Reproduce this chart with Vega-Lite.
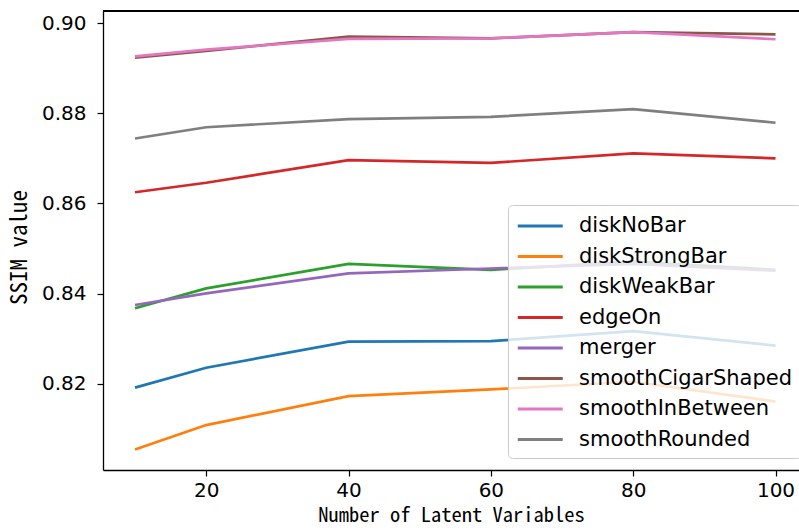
{
  "$schema": "https://vega.github.io/schema/vega-lite/v6.json",
  "autosize": "none",
  "width": 696,
  "height": 459,
  "padding": {"left": 103, "top": 11, "right": 0, "bottom": 61},
  "config": {
    "font": "DejaVu Sans",
    "view": {"stroke": null},
    "axis": {"grid": false, "domainColor": "#000000", "domainWidth": 1.3, "tickColor": "#000000", "tickWidth": 1.2, "tickSize": 6, "labelColor": "#000000", "labelFontSize": 20, "labelFont": "DejaVu Sans", "titleFont": "Noto Sans Mono CJK SC", "titleFontWeight": "normal", "titleColor": "#000000"}
  },
  "data": {
    "values": [
      {"series": "diskNoBar", "latent": 10, "ssim": 0.8192},
      {"series": "diskNoBar", "latent": 20, "ssim": 0.8236},
      {"series": "diskNoBar", "latent": 40, "ssim": 0.8294},
      {"series": "diskNoBar", "latent": 60, "ssim": 0.8295},
      {"series": "diskNoBar", "latent": 80, "ssim": 0.8317},
      {"series": "diskNoBar", "latent": 100, "ssim": 0.8285},
      {"series": "diskStrongBar", "latent": 10, "ssim": 0.8055},
      {"series": "diskStrongBar", "latent": 20, "ssim": 0.8109},
      {"series": "diskStrongBar", "latent": 40, "ssim": 0.8173},
      {"series": "diskStrongBar", "latent": 60, "ssim": 0.8188},
      {"series": "diskStrongBar", "latent": 80, "ssim": 0.8205},
      {"series": "diskStrongBar", "latent": 100, "ssim": 0.8161},
      {"series": "diskWeakBar", "latent": 10, "ssim": 0.8368},
      {"series": "diskWeakBar", "latent": 20, "ssim": 0.8412},
      {"series": "diskWeakBar", "latent": 40, "ssim": 0.8466},
      {"series": "diskWeakBar", "latent": 60, "ssim": 0.8453},
      {"series": "diskWeakBar", "latent": 80, "ssim": 0.8471},
      {"series": "diskWeakBar", "latent": 100, "ssim": 0.8453},
      {"series": "edgeOn", "latent": 10, "ssim": 0.8625},
      {"series": "edgeOn", "latent": 20, "ssim": 0.8646},
      {"series": "edgeOn", "latent": 40, "ssim": 0.8696},
      {"series": "edgeOn", "latent": 60, "ssim": 0.8690},
      {"series": "edgeOn", "latent": 80, "ssim": 0.8711},
      {"series": "edgeOn", "latent": 100, "ssim": 0.8700},
      {"series": "merger", "latent": 10, "ssim": 0.8375},
      {"series": "merger", "latent": 20, "ssim": 0.8401},
      {"series": "merger", "latent": 40, "ssim": 0.8445},
      {"series": "merger", "latent": 60, "ssim": 0.8456},
      {"series": "merger", "latent": 80, "ssim": 0.8466},
      {"series": "merger", "latent": 100, "ssim": 0.8451},
      {"series": "smoothCigarShaped", "latent": 10, "ssim": 0.8923},
      {"series": "smoothCigarShaped", "latent": 20, "ssim": 0.8938},
      {"series": "smoothCigarShaped", "latent": 40, "ssim": 0.8970},
      {"series": "smoothCigarShaped", "latent": 60, "ssim": 0.8966},
      {"series": "smoothCigarShaped", "latent": 80, "ssim": 0.8980},
      {"series": "smoothCigarShaped", "latent": 100, "ssim": 0.8975},
      {"series": "smoothInBetween", "latent": 10, "ssim": 0.8926},
      {"series": "smoothInBetween", "latent": 20, "ssim": 0.8941},
      {"series": "smoothInBetween", "latent": 40, "ssim": 0.8965},
      {"series": "smoothInBetween", "latent": 60, "ssim": 0.8966},
      {"series": "smoothInBetween", "latent": 80, "ssim": 0.8980},
      {"series": "smoothInBetween", "latent": 100, "ssim": 0.8964},
      {"series": "smoothRounded", "latent": 10, "ssim": 0.8744},
      {"series": "smoothRounded", "latent": 20, "ssim": 0.8769},
      {"series": "smoothRounded", "latent": 40, "ssim": 0.8787},
      {"series": "smoothRounded", "latent": 60, "ssim": 0.8792},
      {"series": "smoothRounded", "latent": 80, "ssim": 0.8809},
      {"series": "smoothRounded", "latent": 100, "ssim": 0.8779}
    ]
  },
  "layer": [
    {
      "mark": {"type": "line", "strokeWidth": 2.7, "clip": true},
      "encoding": {
        "x": {"field": "latent", "type": "quantitative", "scale": {"domain": [5.5, 103.3], "nice": false, "zero": false},
              "axis": {"values": [20, 40, 60, 80, 100], "title": "Number of Latent Variables", "titleFontSize": 20.5, "titlePadding": 5, "labelPadding": 4}},
        "y": {"field": "ssim", "type": "quantitative", "scale": {"domain": [0.80094, 0.90266], "nice": false, "zero": false},
              "axis": {"values": [0.82, 0.84, 0.86, 0.88, 0.9], "format": ".2f", "title": "SSIM value", "titleFontSize": 23, "titlePadding": 10, "titleY": 236, "labelPadding": 11}},
        "color": {"field": "series", "type": "nominal",
                  "scale": {"domain": ["diskNoBar", "diskStrongBar", "diskWeakBar", "edgeOn", "merger", "smoothCigarShaped", "smoothInBetween", "smoothRounded"],
                            "range": ["#1f77b4", "#ff7f0e", "#2ca02c", "#d62728", "#9467bd", "#8c564b", "#e377c2", "#7f7f7f"]},
                  "legend": {"title": null, "orient": "none", "legendX": 405, "legendY": 194, "direction": "vertical",
                             "symbolType": "M-1,0H3", "symbolSize": 506, "symbolStrokeWidth": 3, "labelFontSize": 21, "labelFont": "DejaVu Sans", "labelColor": "#000000", "labelLimit": 0,
                             "labelOffset": 37, "rowPadding": 7.5, "padding": 8, "fillColor": "rgba(255,255,255,0.8)", "strokeColor": "#cccccc", "cornerRadius": 4}},
        "order": {"field": "series"}
      }
    },
    {
      "mark": {"type": "rule", "color": "#000000", "strokeWidth": 1.3},
      "encoding": {"y": {"datum": 0.90266}}
    }
  ]
}
